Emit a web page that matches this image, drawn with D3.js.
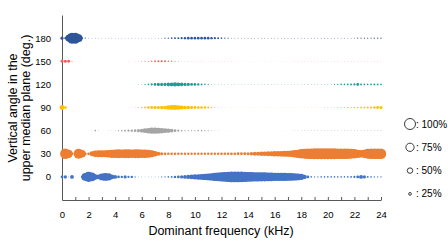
<!DOCTYPE html>
<html>
<head>
<meta charset="utf-8">
<script src="https://cdn.jsdelivr.net/npm/d3@7"></script>
<style>
  body { margin: 0; background: #fff; }
  text { font-family: "Liberation Sans Narrow", "Arial Narrow", "Liberation Sans", sans-serif; fill: #000; }
  .axis path, .axis line { stroke: #595959; }
</style>
</head>
<body>
<div id="chart"></div>
<script>

  // frequency bins (kHz), one bubble every 0.25 kHz from 0 to 24
  var freqStep = 0.25;

  var angles = [0, 30, 60, 90, 120, 150, 180];
  var colors = ["#4472C4", "#ED7D31", "#A5A5A5", "#FFC000", "#1F9C93", "#FF5A5A", "#2E5597"];

  // share of each frequency bin (%) for every vertical angle
  var share0 = [25,30,8,35,3,3,20,70,92,80, 50,45,62,72,65,45,35,25,22,28, 20,22,12,8,7,6,6,6,7,8,
    10,12,15,18,22,26,30,34,38,42, 46,50,54,58,62,68,74,80,85,90, 94,97,98,98,96,93,90,88,86,84,
    82,82,80,78,76,76,75,74,72,70, 66,62,55,40,25,15,12,12,14,14, 15,15,14,14,14,14,15,17,20,26,
    36,28,18,14,13,12,12];
  var share30 = [20,95,75,25,30,90,70,25,25,45, 58,62,62,64,70,75,78,80,78,80, 80,78,80,80,78,76,72,62,48,35,
    28,25,24,24,23,23,22,22,22,22, 22,22,22,22,22,23,23,23,24,24, 24,25,25,26,26,27,28,32,36,38,
    40,42,44,46,48,50,52,54,56,60, 66,75,85,92,96,97,98,98,98,98, 98,98,98,97,96,96,94,92,85,75,
    68,75,90,95,95,95,95];
  var share60 = [2,2,2,2,2,2,3,3,4,5, 15,6,4,4,5,5,7,10,14,18, 20,22,24,28,36,45,50,55,55,52,
    48,45,40,32,26,20,15,12,10,10, 12,14,14,12,10,8,6,5,4,4, 4,3,3,3,3,3,3,3,3,3,
    3,3,3,3,3,4,4,4,4,4, 5,5,6,7,7,8,8,8,7,7, 7,8,8,7,7,8,8,7,7,8,
    8,8,7,8,8,9,9];
  var share90 = [45,25,5,2,2,2,2,2,2,2, 2,2,2,2,2,2,3,3,3,3, 4,5,8,10,14,18,22,26,28,28,
    30,34,40,45,45,42,38,34,30,28, 26,25,24,22,18,14,10,8,6,5, 4,4,4,4,4,4,4,4,4,4,
    4,4,4,4,4,4,4,4,5,5, 5,5,5,5,5,5,6,6,6,7, 7,7,8,10,10,11,12,12,14,15,
    16,17,18,20,22,26,28];
  var share120 = [6,2,2,2,2,2,2,2,2,2, 2,2,2,2,2,2,2,2,2,2, 3,3,4,6,8,10,14,20,26,28,
    28,30,32,36,38,36,32,30,28,26, 24,22,18,14,10,7,6,5,5,5, 5,5,5,5,5,5,5,5,5,5,
    5,5,5,5,5,5,5,5,5,5, 5,5,5,6,6,6,6,6,7,7, 8,9,10,12,14,15,16,18,20,26,
    18,16,14,16,18,16,15];
  var share150 = [26,28,26,10,3,3,2,2,2,2, 2,2,2,2,2,2,2,2,2,2, 3,3,4,6,8,10,10,12,16,18,
    20,18,14,12,10,8,6,5,5,4, 4,4,4,4,4,4,4,4,4,4, 4,4,4,3,3,3,3,3,3,3,
    3,3,3,3,3,3,3,3,3,3, 4,4,4,4,4,4,4,4,5,5, 5,5,6,6,5,5,6,6,5,5,
    6,6,5,5,6,6,5];
  var share180 = [28,20,60,100,100,70,20,10,6,5, 5,5,5,5,5,5,5,5,5,5, 5,5,5,5,5,5,5,5,6,7,
    8,10,12,15,17,18,20,22,24,24, 24,24,24,25,24,22,20,18,15,12, 10,8,8,8,8,8,8,8,8,8,
    8,8,8,8,8,8,8,8,8,8, 8,8,8,8,8,8,8,8,9,9, 9,9,9,9,9,9,9,9,9,10,
    10,10,10,10,11,12,12];

  var shares = [share0, share30, share60, share90, share120, share150, share180];

  var xTicks = [0, 2, 4, 6, 8, 10, 12, 14, 16, 18, 20, 22, 24];
  var yTicks = [0, 30, 60, 90, 120, 150, 180];
  var legendValues = [100, 75, 50, 25];

  var margin = {top: 15, right: 67, bottom: 52, left: 62};

  var width = 448 - margin.left - margin.right,
      height = 252 - margin.top - margin.bottom;

  var svg = d3.select("#chart").append("svg")
      .attr("width", 448)
      .attr("height", 252);

  var canvas = svg.append("g")
      .attr("transform", "translate(" + margin.left + "," + margin.top + ")");

  ////// Define Scales /////////////////
  var xScale = d3.scaleLinear()
      .domain([0, 24])
      .range([0, width]);
  var yScale = d3.scaleLinear()
      .domain([-30, 210])
      .range([height, 0]);
  var rScale = d3.scaleLinear()
      .domain([0, 100])
      .range([0, 5.5]);

  /////// Axes //////////////////////////////
  var xAxis = d3.axisBottom(xScale)
      .tickValues(d3.range(0, 25, 1))
      .tickFormat(function(d) { return xTicks.indexOf(d) >= 0 ? d : ""; })
      .tickSizeInner(-3)
      .tickSizeOuter(0)
      .tickPadding(11);

  var yAxis = d3.axisLeft(yScale)
      .tickValues(yTicks)
      .tickSize(0)
      .tickPadding(11);

  canvas.append("g")
      .attr("class", "x axis")
      .attr("transform", "translate(0," + height + ")")
      .call(xAxis)
      .selectAll("text")
      .style("font-size", "9.5px");

  canvas.append("g")
      .attr("class", "y axis")
      .call(yAxis)
      .selectAll("text")
      .style("font-size", "9.5px");

  // bubbles, one row per angle
  shares.forEach(function(row, k) {
    canvas.append("g")
        .attr("class", "row")
        .selectAll("circle")
        .data(row)
        .enter()
        .append("circle")
        .attr("cx", function(d, i) { return xScale(i * freqStep); })
        .attr("cy", yScale(angles[k]))
        .attr("r", function(d) { return rScale(d); })
        .attr("fill", colors[k]);
  });

  // axis titles
  svg.append("text")
      .attr("x", 221)
      .attr("y", 235)
      .attr("text-anchor", "middle")
      .style("font-size", "12.5px")
      .text("Dominant frequency (kHz)");

  var yTitle = svg.append("text")
      .attr("transform", "translate(0," + 108 + ") rotate(-90)")
      .attr("text-anchor", "middle")
      .style("font-size", "12.5px");
  yTitle.append("tspan").attr("x", 0).attr("y", 17).text("Vertical angle in the");
  yTitle.append("tspan").attr("x", 0).attr("y", 29.5).text("upper median plane (deg.)");

  // size legend
  var legend = svg.append("g")
      .attr("class", "legend")
      .selectAll("g")
      .data(legendValues)
      .enter()
      .append("g")
      .attr("transform", function(d, i) { return "translate(410," + (124 + i * 23.3) + ")"; });

  legend.append("circle")
      .attr("r", function(d) { return rScale(d); })
      .attr("fill", "#fff")
      .attr("stroke", "#262626")
      .attr("stroke-width", 0.9);

  legend.append("text")
      .attr("x", 6)
      .attr("y", 3.5)
      .style("font-size", "10px")
      .text(function(d) { return ": " + d + "%"; });

</script>
</body>
</html>
